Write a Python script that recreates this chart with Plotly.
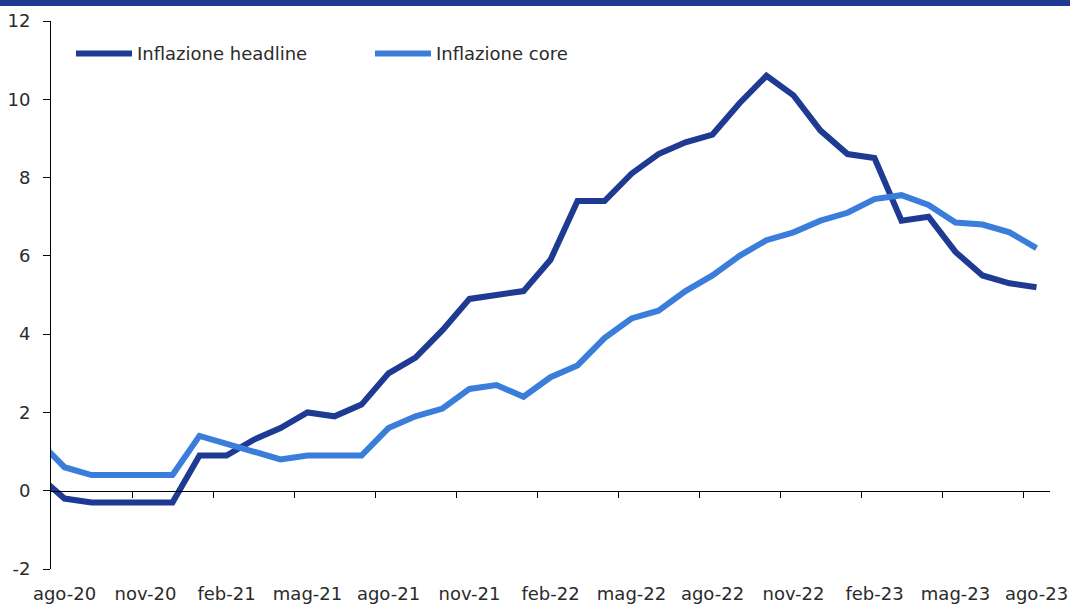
import plotly.graph_objects as go

# Monthly data, lug-20 .. ago-23 (euro area HICP, % y/y)
months = ['lug-20', 'ago-20', 'set-20', 'ott-20', 'nov-20', 'dic-20',
          'gen-21', 'feb-21', 'mar-21', 'apr-21', 'mag-21', 'giu-21',
          'lug-21', 'ago-21', 'set-21', 'ott-21', 'nov-21', 'dic-21',
          'gen-22', 'feb-22', 'mar-22', 'apr-22', 'mag-22', 'giu-22',
          'lug-22', 'ago-22', 'set-22', 'ott-22', 'nov-22', 'dic-22',
          'gen-23', 'feb-23', 'mar-23', 'apr-23', 'mag-23', 'giu-23',
          'lug-23', 'ago-23']
headline = [0.4, -0.2, -0.3, -0.3, -0.3, -0.3,
            0.9, 0.9, 1.3, 1.6, 2.0, 1.9,
            2.2, 3.0, 3.4, 4.1, 4.9, 5.0,
            5.1, 5.9, 7.4, 7.4, 8.1, 8.6,
            8.9, 9.1, 9.9, 10.6, 10.1, 9.2,
            8.6, 8.5, 6.9, 7.0, 6.1, 5.5,
            5.3, 5.2]
core = [1.3, 0.6, 0.4, 0.4, 0.4, 0.4,
        1.4, 1.2, 1.0, 0.8, 0.9, 0.9,
        0.9, 1.6, 1.9, 2.1, 2.6, 2.7,
        2.4, 2.9, 3.2, 3.9, 4.4, 4.6,
        5.1, 5.5, 6.0, 6.4, 6.6, 6.9,
        7.1, 7.45, 7.55, 7.3, 6.85, 6.8,
        6.6, 6.2]
y_ticks = [-2, 0, 2, 4, 6, 8, 10, 12]
y_labels = ['-2', '0', '2', '4', '6', '8', '10', '12']

NAVY = '#1F3A93'
LIGHT = '#3A7DDB'
FONT = 'DejaVu Sans'

idx = list(range(len(months)))
label_idx = idx[1::3]                        # ago-20, nov-20, ... ago-23
boundary_idx = [i + 0.5 for i in idx[3::3]]  # tick marks between categories

fig = go.Figure()
fig.add_trace(go.Scatter(x=idx, y=headline, name='Inflazione headline', mode='lines',
                         line=dict(color=NAVY, width=6)))
fig.add_trace(go.Scatter(x=idx, y=core, name='Inflazione core', mode='lines',
                         line=dict(color=LIGHT, width=6)))
# invisible trace to carry the zero-line axis
fig.add_trace(go.Scatter(x=[idx[0]], y=[0], xaxis='x2', mode='lines',
                         showlegend=False, hoverinfo='skip', line=dict(width=0)))

xr = [0.5, len(months) - 0.5]
yr = [y_ticks[0], y_ticks[-1]]

fig.update_layout(
    width=1070, height=605,
    margin=dict(l=51, r=20, t=21, b=36),
    paper_bgcolor='white', plot_bgcolor='white',
    font=dict(family=FONT, size=18, color='#2b2b2b'),
    showlegend=True,
    legend=dict(orientation='h', x=0.02, y=0.974, xanchor='left', yanchor='top',
                bgcolor='rgba(0,0,0,0)', font=dict(size=18),
                entrywidth=228, entrywidthmode='pixels', itemwidth=56),
    xaxis=dict(range=xr, tickmode='array', tickvals=label_idx,
               ticktext=[months[i] for i in label_idx], ticks='',
               showline=False, showgrid=False, zeroline=False,
               ticklabelstandoff=12, automargin=False),
    xaxis2=dict(range=xr, overlaying='x', anchor='free',
                position=(0 - yr[0]) / (yr[1] - yr[0]),
                tickmode='array', tickvals=boundary_idx, showticklabels=False,
                ticks='outside', ticklen=6, tickcolor='black', tickwidth=1,
                showline=True, linecolor='black', linewidth=1,
                showgrid=False, zeroline=False, automargin=False),
    yaxis=dict(range=yr, tickmode='array', tickvals=y_ticks, ticktext=y_labels,
               ticks='outside', ticklen=7, tickcolor='black', tickwidth=1,
               showline=True, linecolor='black', linewidth=1,
               showgrid=False, zeroline=False, ticklabelstandoff=9,
               automargin=False),
)

# dark band along the top edge
fig.add_shape(type='rect', xref='paper', yref='paper',
              x0=-0.06, x1=1.03, y0=1 + 15 / 548, y1=1.05,
              fillcolor=NAVY, line=dict(width=0), layer='above')

# drop the page's default 8px body margin so the figure sits at (0, 0)
fig.write_html('out.html', config={'displayModeBar': False},
               post_script="document.body.style.margin='0';")
